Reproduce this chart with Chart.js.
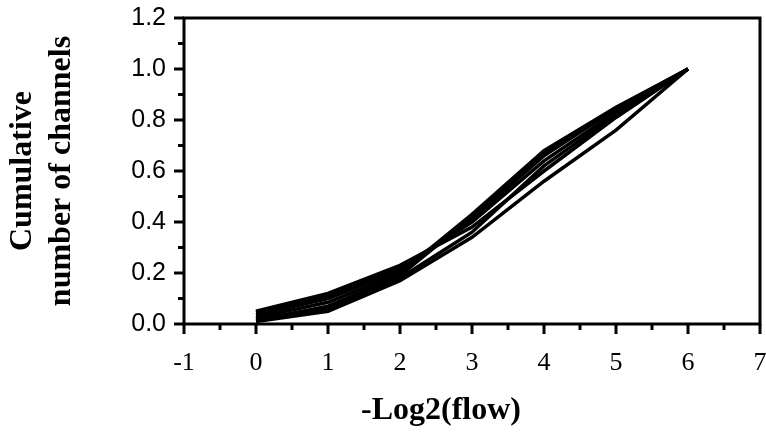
<!DOCTYPE html>
<html>
<head>
<meta charset="utf-8">
<script src="https://cdn.jsdelivr.net/npm/chart.js@4/dist/chart.umd.min.js"></script>
<style>
  html, body { margin: 0; padding: 0; background: #fff; }
</style>
</head>
<body>
<canvas id="chart" width="766" height="436"></canvas>
<script>
// -Log2(flow) steps where each curve was sampled
const flowSteps = [0, 1, 2, 3, 4, 5, 6];

// cumulative fraction of channels, one array per curve
const curveA = [0.050, 0.120, 0.230, 0.380, 0.600, 0.810, 1.0];
const curveB = [0.045, 0.110, 0.220, 0.400, 0.640, 0.830, 1.0];
const curveC = [0.035, 0.100, 0.210, 0.410, 0.660, 0.845, 1.0];
const curveD = [0.025, 0.085, 0.200, 0.430, 0.680, 0.850, 1.0];
const curveE = [0.015, 0.070, 0.190, 0.420, 0.670, 0.840, 1.0];
const curveF = [0.010, 0.050, 0.170, 0.340, 0.560, 0.760, 1.0];
const curveG = [0.020, 0.060, 0.180, 0.360, 0.620, 0.820, 1.0];

const xTickValues = [-1, 0, 1, 2, 3, 4, 5, 6, 7];
const xMinorValues = [-0.5, 0.5, 1.5, 2.5, 3.5, 4.5, 5.5, 6.5];
const yTickValues = [0, 0.2, 0.4, 0.6, 0.8, 1.0, 1.2];
const yMinorValues = [0.1, 0.3, 0.5, 0.7, 0.9, 1.1];

const xTitle = "-Log2(flow)";
const yTitle = ["Cumulative", "number of channels"];

const curves = [curveA, curveB, curveC, curveD, curveE, curveF, curveG];

// =======================================================
// FRAME, TICK MARKS AND X TITLE
// =======================================================
const framePlugin = {
    id: "frame",
    afterDatasetsDraw(chart) {
        const { ctx, chartArea: a, scales } = chart;
        const x = scales.x, y = scales.y;

        ctx.save();
        ctx.strokeStyle = "#000";
        ctx.lineWidth = 3;
        ctx.strokeRect(a.left, a.top, a.right - a.left, a.bottom - a.top);

        ctx.beginPath();
        xTickValues.forEach(v => {
            const px = x.getPixelForValue(v);
            ctx.moveTo(px, a.bottom);
            ctx.lineTo(px, a.bottom + 10);
        });
        xMinorValues.forEach(v => {
            const px = x.getPixelForValue(v);
            ctx.moveTo(px, a.bottom);
            ctx.lineTo(px, a.bottom + 6);
        });
        yTickValues.forEach(v => {
            const py = y.getPixelForValue(v);
            ctx.moveTo(a.left, py);
            ctx.lineTo(a.left - 10, py);
        });
        yMinorValues.forEach(v => {
            const py = y.getPixelForValue(v);
            ctx.moveTo(a.left, py);
            ctx.lineTo(a.left - 6, py);
        });
        ctx.stroke();

        ctx.fillStyle = "#000";
        ctx.font = 'bold 32px "Liberation Serif"';
        ctx.textAlign = "center";
        ctx.textBaseline = "middle";
        ctx.fillText(xTitle, (a.left + a.right) / 2 - 31, a.bottom + 87);
        ctx.restore();
    }
};

// =======================================================
// CHART
// =======================================================
new Chart(document.getElementById("chart"), {
    type: "scatter",
    data: {
        datasets: curves.map(c => ({
            data: flowSteps.map((f, i) => ({ x: f, y: c[i] })),
            showLine: true,
            borderColor: "#000",
            borderWidth: 3.5,
            pointRadius: 0,
            tension: 0
        }))
    },
    options: {
        responsive: false,
        animation: false,
        layout: { padding: { top: 18, right: 6, left: 0, bottom: 0 } },
        plugins: {
            legend: { display: false },
            tooltip: { enabled: false }
        },
        scales: {
            x: {
                type: "linear",
                min: -1,
                max: 7,
                afterBuildTicks: s => { s.ticks = xTickValues.map(v => ({ value: v })); },
                afterFit: s => {
                    s.height = 112;
                    s.paddingLeft = 0;
                    s.paddingRight = 0;
                },
                grid: { display: false, drawTicks: false },
                border: { display: false },
                ticks: {
                    color: "#000",
                    padding: 24,
                    maxRotation: 0,
                    font: { family: "Liberation Serif", size: 26 },
                    callback: v => String(v)
                }
            },
            y: {
                type: "linear",
                min: 0,
                max: 1.2,
                afterBuildTicks: s => { s.ticks = yTickValues.map(v => ({ value: v })); },
                afterFit: s => {
                    s.width = 184;
                    s.paddingTop = 0;
                    s.paddingBottom = 0;
                },
                grid: { display: false, drawTicks: false },
                border: { display: false },
                ticks: {
                    color: "#000",
                    padding: 18,
                    font: { family: "Liberation Sans", size: 25 },
                    callback: v => v.toFixed(1)
                },
                title: {
                    display: true,
                    text: yTitle,
                    color: "#000",
                    padding: { top: 4, bottom: 0 },
                    font: { family: "Liberation Serif", size: 32, weight: "bold", lineHeight: 1.2 }
                }
            }
        }
    },
    plugins: [framePlugin]
});
</script>
</body>
</html>
